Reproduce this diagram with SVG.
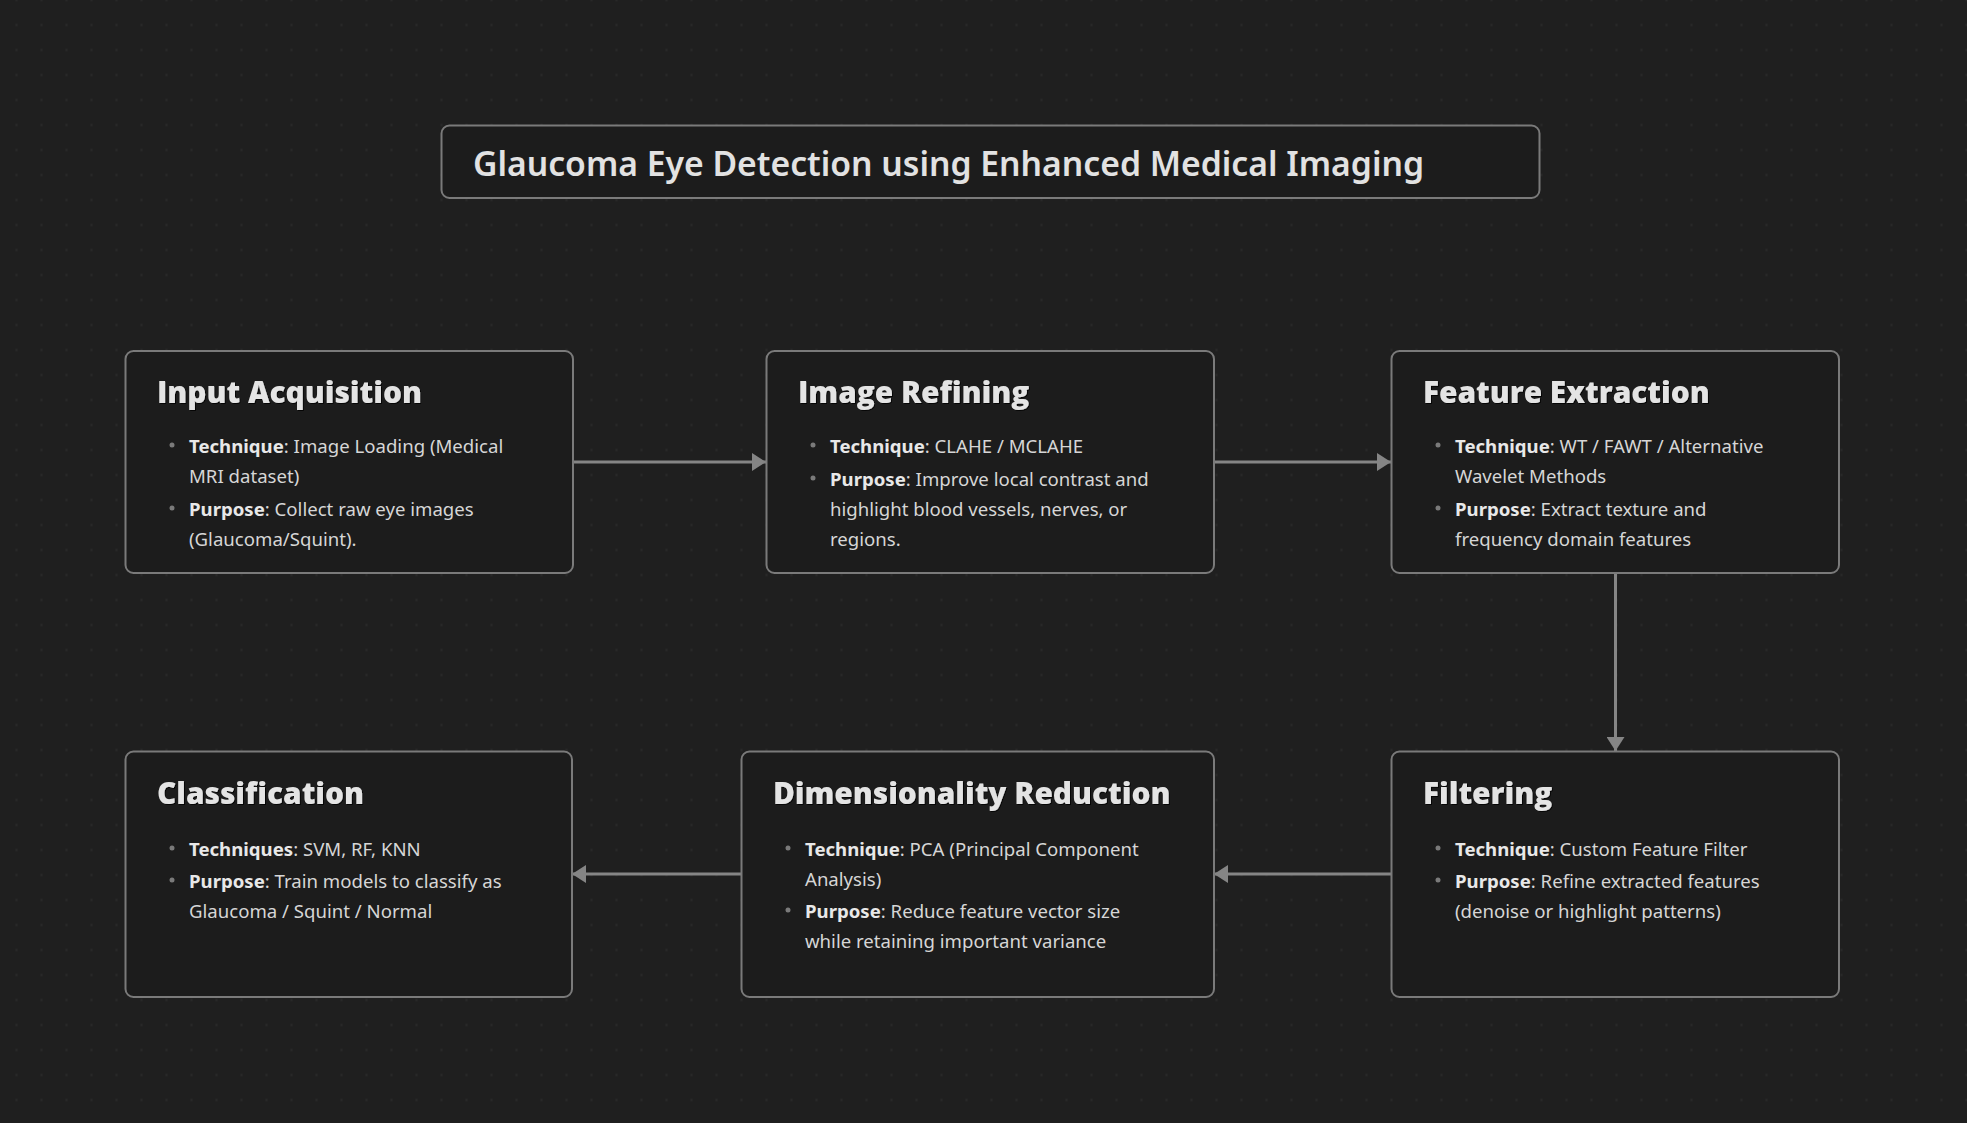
<svg xmlns="http://www.w3.org/2000/svg" width="1967" height="1123" viewBox="0 0 1967 1123">
<defs>
<pattern id="grid" patternUnits="userSpaceOnUse" x="4" y="-12.5" width="25" height="25">
<rect x="11.5" y="11.5" width="2" height="2" fill="#2b2b2b"/>
</pattern>
<marker id="arr" viewBox="0 0 14 18" refX="14" refY="9" markerWidth="14" markerHeight="18" markerUnits="userSpaceOnUse" orient="auto">
<path d="M0,0 L14,9 L0,18 Z" fill="#858585"/>
</marker>
<filter id="sh" x="-5%" y="-20%" width="110%" height="140%">
<feDropShadow dx="1" dy="1" stdDeviation="0.6" flood-color="#000" flood-opacity="0.8"/>
</filter>
</defs>
<style>
.box{fill:#1c1c1c;stroke:#7a7a7a;stroke-width:2}
.ttl{font-family:"Noto Sans","Open Sans","Liberation Sans",sans-serif;font-weight:600;font-size:35px;fill:#e2e2e2}
.h{font-family:"Open Sans","Noto Sans","Liberation Sans",sans-serif;font-weight:800;font-size:29.8px;fill:#e4e4e4}
.t{font-family:"Noto Sans","Open Sans","Liberation Sans",sans-serif;font-size:18.6px;fill:#d6d6d6}
.b{font-weight:700;fill:#e8e8e8}
.dot{fill:#7a7a7a}
.con{fill:none;stroke:#858585;stroke-width:3;marker-end:url(#arr)}
</style>
<rect width="1967" height="1123" fill="#1f1f1f"/>
<rect width="1967" height="1123" fill="url(#grid)"/>

<g id="title">
<rect class="box" x="441.5" y="125.5" width="1098" height="72.5" rx="8"/>
<text class="ttl" x="473" y="176" textLength="951" lengthAdjust="spacingAndGlyphs">Glaucoma Eye Detection using Enhanced Medical Imaging</text>
</g>

<g id="connectors">
<line class="con" x1="573" y1="462" x2="766" y2="462"/>
<line class="con" x1="1214" y1="462" x2="1391" y2="462"/>
<line class="con" x1="1615.5" y1="573" x2="1615.5" y2="751"/>
<line class="con" x1="1391" y1="874" x2="1214" y2="874"/>
<line class="con" x1="741" y1="874" x2="572" y2="874"/>
</g>

<g id="input-acquisition">
<rect class="box" x="125.5" y="351" width="447.5" height="222" rx="8"/>
<text class="h" x="157" y="403" filter="url(#sh)">Input Acquisition</text>
<circle class="dot" cx="172" cy="445" r="2.5"/>
<text class="t" x="189" y="453"><tspan class="b">Technique</tspan>: Image Loading (Medical</text>
<text class="t" x="189" y="483">MRI dataset)</text>
<circle class="dot" cx="172" cy="508" r="2.5"/>
<text class="t" x="189" y="516"><tspan class="b">Purpose</tspan>: Collect raw eye images</text>
<text class="t" x="189" y="546">(Glaucoma/Squint).</text>
</g>

<g id="image-refining">
<rect class="box" x="766.5" y="351" width="447.5" height="222" rx="8"/>
<text class="h" x="798" y="403" filter="url(#sh)">Image Refining</text>
<circle class="dot" cx="813" cy="445" r="2.5"/>
<text class="t" x="830" y="453"><tspan class="b">Technique</tspan>: CLAHE / MCLAHE</text>
<circle class="dot" cx="813" cy="478" r="2.5"/>
<text class="t" x="830" y="486"><tspan class="b">Purpose</tspan>: Improve local contrast and</text>
<text class="t" x="830" y="516">highlight blood vessels, nerves, or</text>
<text class="t" x="830" y="546">regions.</text>
</g>

<g id="feature-extraction">
<rect class="box" x="1391.5" y="351" width="447.5" height="222" rx="8"/>
<text class="h" x="1423" y="403" filter="url(#sh)">Feature Extraction</text>
<circle class="dot" cx="1438" cy="445" r="2.5"/>
<text class="t" x="1455" y="453"><tspan class="b">Technique</tspan>: WT / FAWT / Alternative</text>
<text class="t" x="1455" y="483">Wavelet Methods</text>
<circle class="dot" cx="1438" cy="508" r="2.5"/>
<text class="t" x="1455" y="516"><tspan class="b">Purpose</tspan>: Extract texture and</text>
<text class="t" x="1455" y="546">frequency domain features</text>
</g>

<g id="filtering">
<rect class="box" x="1391.5" y="751.5" width="447.5" height="245.5" rx="8"/>
<text class="h" x="1423" y="804" filter="url(#sh)">Filtering</text>
<circle class="dot" cx="1438" cy="848" r="2.5"/>
<text class="t" x="1455" y="856"><tspan class="b">Technique</tspan>: Custom Feature Filter</text>
<circle class="dot" cx="1438" cy="880" r="2.5"/>
<text class="t" x="1455" y="888"><tspan class="b">Purpose</tspan>: Refine extracted features</text>
<text class="t" x="1455" y="918">(denoise or highlight patterns)</text>
</g>

<g id="dimensionality-reduction">
<rect class="box" x="741.5" y="751.5" width="472.5" height="245.5" rx="8"/>
<text class="h" x="773" y="804" filter="url(#sh)">Dimensionality Reduction</text>
<circle class="dot" cx="788" cy="848" r="2.5"/>
<text class="t" x="805" y="856"><tspan class="b">Technique</tspan>: PCA (Principal Component</text>
<text class="t" x="805" y="886">Analysis)</text>
<circle class="dot" cx="788" cy="910" r="2.5"/>
<text class="t" x="805" y="918"><tspan class="b">Purpose</tspan>: Reduce feature vector size</text>
<text class="t" x="805" y="948">while retaining important variance</text>
</g>

<g id="classification">
<rect class="box" x="125.5" y="751.5" width="446.5" height="245.5" rx="8"/>
<text class="h" x="157" y="804" filter="url(#sh)">Classification</text>
<circle class="dot" cx="172" cy="848" r="2.5"/>
<text class="t" x="189" y="856"><tspan class="b">Techniques</tspan>: SVM, RF, KNN</text>
<circle class="dot" cx="172" cy="880" r="2.5"/>
<text class="t" x="189" y="888"><tspan class="b">Purpose</tspan>: Train models to classify as</text>
<text class="t" x="189" y="918">Glaucoma / Squint / Normal</text>
</g>
</svg>
